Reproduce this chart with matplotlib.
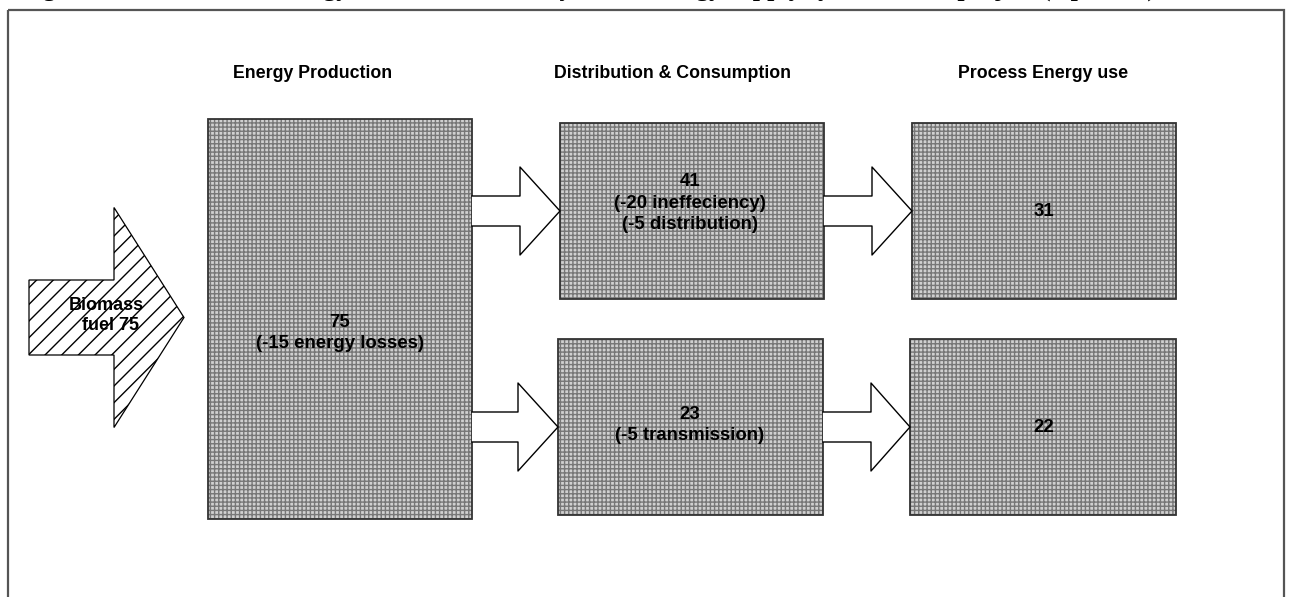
import matplotlib
matplotlib.use("Agg")
import matplotlib.pyplot as plt
from matplotlib.patches import Rectangle, Polygon

# ---------------- data ----------------
stages = ["Energy Production", "Distribution & Consumption", "Process Energy use"]
input_lines = ["Biomass", "fuel 75"]
production_value = 75
production_losses = ["(-15 energy losses)"]
distribution_values = [41, 23]
distribution_losses = [["(-20 ineffeciency)", "(-5 distribution)"], ["(-5 transmission)"]]
process_values = [31, 22]
title = "Figure 2: Schematic of energy flows and efficiency in the energy supply system of the project (Option 1)"

# ---------------- layout (pixel space) ----------------
W, H = 1290, 597
fig = plt.figure(figsize=(W / 100, H / 100), dpi=100)
ax = fig.add_axes([0, 0, 1, 1])
ax.set_xlim(0, W)
ax.set_ylim(H, 0)
ax.axis("off")

SANS = ["Liberation Sans", "Arial", "DejaVu Sans"]
SERIF = ["Liberation Serif", "Times New Roman", "DejaVu Serif"]
plt.rcParams["hatch.linewidth"] = 1.0

# title, clipped at the top edge as in the reference (only descenders visible)
ax.text(20, -4.6, title, family=SERIF, fontweight="bold", fontsize=18.5,
        ha="left", va="baseline", color="black")

# outer frame
ax.add_patch(Rectangle((8, 10), 1276, 620, fill=False, edgecolor="#555555", lw=1.6, zorder=1))

# stage headers
header_x = [313, 672, 1043]
for x, s in zip(header_x, stages):
    ax.text(x, 73, s, family=SANS, fontweight="bold", fontsize=12.8, ha="center", va="center")


def box(x0, y0, x1, y1):
    ax.add_patch(Rectangle((x0, y0), x1 - x0, y1 - y0, facecolor="#d0d0d0",
                           edgecolor="#777777", hatch="++++", lw=0, zorder=2))
    ax.add_patch(Rectangle((x0, y0), x1 - x0, y1 - y0, fill=False,
                           edgecolor="#333333", lw=1.3, zorder=3))


def block_arrow(x0, xh, xt, yc, sh, hh, hatch=None, z=4):
    pts = [(x0, yc - sh), (xh, yc - sh), (xh, yc - hh), (xt, yc),
           (xh, yc + hh), (xh, yc + sh), (x0, yc + sh)]
    if hatch:
        ax.add_patch(Polygon(pts, closed=True, facecolor="white", edgecolor="black",
                             hatch=hatch, lw=0.9, zorder=z))
    else:
        ax.add_patch(Polygon(pts, closed=True, facecolor="white", edgecolor="none", zorder=z))
        xs, ys = zip(*pts)
        ax.plot(xs, ys, color="black", lw=1.0, zorder=z + 0.1)


def label(x, y, lines, fs=13.4):
    ax.text(x, y, "\n".join(lines), family=SANS, fontweight="bold", fontsize=fs,
            ha="center", va="center", linespacing=1.38, zorder=6)


# boxes
box(208, 119, 472, 519)      # production
box(560, 123, 824, 299)      # distribution top
box(558, 339, 823, 515)      # distribution bottom
box(912, 123, 1176, 299)     # process top
box(910, 339, 1176, 515)     # process bottom

# arrows
block_arrow(29, 114, 184, 317.5, 37.5, 110, hatch="//")
block_arrow(472, 520, 560, 211, 15, 44)
block_arrow(472, 518, 558, 427, 15, 44)
block_arrow(824, 872, 912, 211, 15, 44)
block_arrow(823, 871, 910, 427, 15, 44)

# labels
ax.text(106, 305, input_lines[0], family=SANS, fontweight="bold", fontsize=13,
        ha="center", va="center", zorder=6)
ax.text(111, 326, input_lines[1], family=SANS, fontweight="bold", fontsize=13,
        ha="center", va="center", zorder=6)
label(340, 333, [str(production_value)] + production_losses)
label(690, 203, [str(distribution_values[0])] + distribution_losses[0])
label(690, 425, [str(distribution_values[1])] + distribution_losses[1])
label(1044, 211, [str(process_values[0])])
label(1044, 427, [str(process_values[1])])

fig.savefig("out.png", dpi=100)
